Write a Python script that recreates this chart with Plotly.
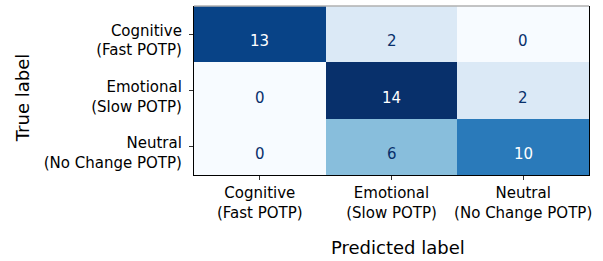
import plotly.graph_objects as go

classes = ["Cognitive<br>(Fast POTP)", "Emotional<br>(Slow POTP)", "Neutral<br>(No Change POTP)"]
true_labels = classes
pred_labels = classes
counts = [
    [13, 2, 0],
    [0, 14, 2],
    [0, 6, 10],
]

blues = ['rgb(247,251,255)', 'rgb(222,235,247)', 'rgb(198,219,239)', 'rgb(158,202,225)',
         'rgb(107,174,214)', 'rgb(66,146,198)', 'rgb(33,113,181)', 'rgb(8,81,156)', 'rgb(8,48,107)']
scale = [[i / (len(blues) - 1), c] for i, c in enumerate(blues)]

zmax = max(max(r) for r in counts)
thresh = zmax / 2

fig = go.Figure(go.Heatmap(
    z=counts, x=pred_labels, y=true_labels,
    colorscale=scale, zmin=0, zmax=zmax, showscale=False,
    xgap=0, ygap=0, hoverinfo="skip",
))

for i, row in enumerate(counts):
    for j, v in enumerate(row):
        fig.add_annotation(
            x=pred_labels[j], y=true_labels[i], text=str(v), showarrow=False,
            yshift=-7,
            font=dict(size=15, color="white" if v > thresh else "#08306b",
                      family="DejaVu Sans"),
        )

# axis titles
fig.add_annotation(text="Predicted label", xref="paper", yref="paper", x=0.517, y=-0.43,
                   xanchor="center", yanchor="middle", showarrow=False,
                   font=dict(size=18, family="DejaVu Sans", color="black"))
fig.add_annotation(text="True label", xref="paper", yref="paper", x=-0.435, y=0.455,
                   xanchor="center", yanchor="middle", showarrow=False, textangle=-90,
                   font=dict(size=18, family="DejaVu Sans", color="black"))

fig.add_shape(type="line", xref="paper", yref="paper", x0=0, x1=1, y0=1, y1=1,
              line=dict(color="#b0b0b0", width=1.5))

fig.update_layout(
    width=603, height=261,
    margin=dict(l=194, r=14, t=6, b=86),
    paper_bgcolor="white", plot_bgcolor="white",
    font=dict(family="DejaVu Sans", size=15, color="black"),
    xaxis=dict(
        showline=True, linecolor="black", linewidth=1.2, mirror=False,
        ticks="outside", ticklen=4, tickcolor="#333", showgrid=False, zeroline=False,
        tickfont=dict(size=15), automargin=False,
    ),
    yaxis=dict(
        showline=True, linecolor="black", linewidth=1.2, mirror=True,
        ticks="outside", ticklen=4, tickcolor="#333", showgrid=False, zeroline=False,
        autorange="reversed",
        tickfont=dict(size=15), automargin=False, ticklabelstandoff=4,
        ticklabelshift=-6,
    ),
)

fig.write_html("out.html", config={"displayModeBar": False},
               post_script="document.body.style.margin='0';")
